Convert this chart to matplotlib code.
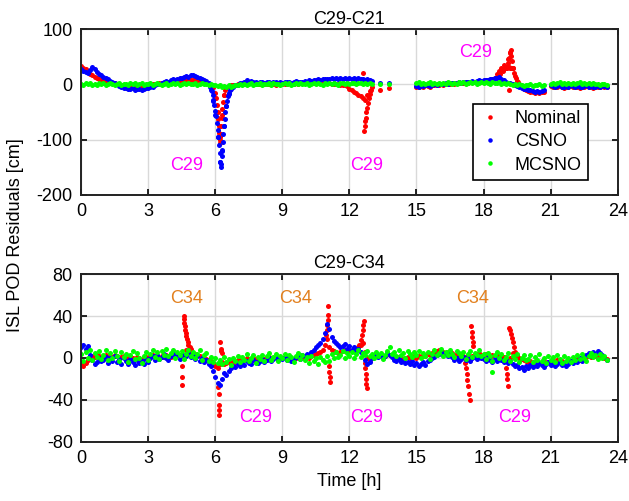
import numpy as np
import matplotlib.pyplot as plt

plt.rcParams['font.family'] = ['Liberation Sans', 'DejaVu Sans']
plt.rcParams['font.size'] = 13
plt.rcParams['axes.unicode_minus'] = False

# ---------------- C29-C21 (top) ----------------
# regular 0.1 h samples, segment A starts 0.0 h, B 15.0 h, C 21.0 h
top_blue_a = [28, 25, 23, 21, 26, 31, 27, 22, 19, 16,
              14, 11, 9, 6, 5, 2, 1, -3, -4, -7,
              -6, -9, -8, -7, -10, -8, -9, -10, -8, -7,
              -6, -4, -5, -2, 0, 1, 3, 4, 6, 5,
              7, 9, 8, 10, 12, 11, 13, 15, 14, 16,
              17, 15, 14, 12, 10, 7, 6, 3, -10, -30,
              -55, -95, -140, -120, -75, -40, -18, -8, -4, -2,
              -1, 2, 3, 5, 7, 5, 6, 4, 5, 3,
              5, 4, 3, 4, 5, 3, 4, 5, 3, 4,
              3, 5, 4, 4, 3, 5, 6, 4, 5, 4,
              6, 5, 7, 6, 8, 7, 9, 8, 10, 9,
              10, 9, 11, 10, 12, 10, 11, 9, 11, 10,
              11, 10, 12, 9, 11, 10, 9, 8, 9, 7,
              6]
top_green_a = [1, -2, 2, 0, 3, -1, 1, -2, 2, 0,
               2, -1, 1, 3, 0, -2, 1, 2, -1, 0,
               1, -2, 2, 0, 3, -1, 0, 2, -2, 1,
               0, 2, -1, 1, 3, 0, -2, 1, 2, -1,
               1, 3, 0, 2, -1, 1, 3, 0, 2, 1,
               0, 2, -1, 1, 3, 0, 1, -1, 0, -2,
               -1, -3, -2, -4, -3, -5, -2, -4, -3, -1,
               -2, 0, -1, 1, -2, 0, 2, -1, 1, 0,
               2, -1, 1, 0, 3, -1, 2, 0, 1, -2,
               1, 3, 0, 2, -1, 1, 2, 0, 3, 1,
               0, 2, -1, 1, 3, 0, 2, 1, -1, 2,
               1, 3, 0, 2, 1, -1, 2, 3, 0, 2,
               1, 3, 2, 0, 2, 3, 1, 2, 0, 2,
               1]
top_red_a = [34, 30, 27, 22, 18, 16, 14, 12, 10, 8,
             7, 6, 5, 4, 3, 2, 1, 0, -1, -2,
             -3, -4, -4, -5, -5, -4, -4, -3, -3, -2,
             -2, -1, 0, 0, 1, 2, 2, 3, 3, 4,
             4, 5, 5, 6, 6, 7, 7, 7, 8, 8,
             8, 7, 7, 6, 5, 4, 3, 1, -1, -5,
             -25, -60, -95, -55, -20, -5, -3, -2, -2, -1,
             0, 0, 1, 1, 2, 2, 2, 2, 1, 1,
             1, 1, 0, 0, 1, 0, 0, -1, 0, 0,
             1, 0, 1, 2, 1, 1, 2, 1, 2, 2,
             2, 3, 2, 3, 3, 2, 3, 3, 2, 3,
             2, 2, 1, 1, 0, 0, -1, -1, -2, -3,
             -8, -11, -14, -16, -19, -22, -25, -28, -20, -12,
             -5]

top_blue_b = [-3, -4, -2, -3, -1, -2, -3, -1, 0, -1,
              0, 1, 0, 2, 1, 2, 3, 2, 3, 4,
              3, 4, 5, 4, 5, 6, 5, 6, 7, 6,
              7, 8, 7, 9, 10, 11, 12, 13, 10, 7,
              5, 3, 2, 0, -1, -3, -5, -7, -8, -9,
              -10, -11, -12, -13, -12, -13, -12, -11]
top_green_b = [2, 4, 1, 3, 0, 2, 4, 1, 3, 0,
               2, 0, 3, 1, 4, 2, 0, 3, 1, 4,
               2, 4, 1, 3, 5, 2, 4, 1, 3, 5,
               2, 4, 3, 1, 5, 3, 2, 4, 1, 3,
               0, 2, 1, -1, 0, -2, 1, -1, -3, -1,
               -2, 0, -3, -1, -2, 0, -3, -1]
top_red_b = [-4, -5, -3, -4, -2, -3, -4, -2, -1, -2,
             -1, 0, -1, 1, 0, 1, 2, 1, 2, 3,
             2, 3, 4, 3, 4, 5, 4, 5, 6, 5,
             6, 7, 6, 8, 9, 12, 18, 25, 30, 35,
             30, 45, 57, 30, 15, 6, 0, -5, -8, -10,
             -12, -13, -14, -15, -14, -15, -14, -13]

top_blue_c = [-2, -3, -4, -3, -2, -4, -5, -3, -4, -2, -3, -4, -3,
              -5, -4, -3, -2, -4, -3, -5, -4, -3, -4, -2, -3, -4]
top_green_c = [1, 3, 0, 2, 4, 1, 3, 0, 2, 1, 3, 0, 2,
               4, 1, 2, 0, 3, 1, 2, 0, 1, -1, 1, 0, -1]
top_red_c = [-3, -4, -5, -4, -3, -5, -6, -4, -5, -3, -4, -5, -4,
             -6, -5, -4, -3, -5, -4, -6, -5, -4, -5, -3, -4, -5]

# extra (time, value) points: spikes and isolated samples
top_blue_x_t = [5.78, 5.84, 5.88, 5.92, 5.96, 6.00, 6.04, 6.07, 6.10, 6.13, 6.16, 6.19,
                6.22, 6.24, 6.26, 6.28, 6.30, 6.33, 6.36, 6.39, 6.42, 6.45, 6.48, 6.52,
                6.56, 6.60, 6.65, 13.35, 13.75]
top_blue_x_v = [-5, -12, -20, -28, -38, -48, -58, -70, -82, -95, -110, -125,
                -140, -150, -145, -130, -118, -105, -90, -75, -62, -50, -40, -30,
                -22, -15, -10, 3, 3]
top_red_x_t = [5.92, 5.98, 6.03, 6.07, 6.10, 6.13, 6.16, 6.18, 6.20, 6.22, 6.24, 6.26,
               6.29, 6.32, 6.36, 6.40, 6.45, 6.50,
               12.62, 12.66, 12.68, 12.70, 12.72, 12.75, 12.78, 12.82, 12.86, 12.90, 12.95,
               13.35, 13.75,
               18.65, 18.75, 18.85, 18.95, 19.05, 19.10, 19.15, 19.18, 19.22, 19.25, 19.28,
               19.32, 19.38, 19.45, 19.55, 18.95, 19.00, 19.05, 19.15, 19.20, 19.25, 19.12]
top_red_x_v = [-5, -15, -25, -38, -50, -62, -75, -88, -100, -107, -90, -75,
               -60, -45, -32, -20, -10, -5,
               21, -84, -75, -67, -60, -50, -42, -34, -25, -18, -11,
               -10, -6,
               14, 18, 24, 29, 32, 38, 48, 58, 62, 52, 42,
               30, 20, 12, 5, 30, 31, 30, 31, 30, 29, -10]
top_green_x_t = [13.35, 13.75]
top_green_x_v = [0, 1]

# ---------------- C29-C34 (bottom) ----------------
# regular 0.1 h samples from 0.0 h
bot_green = [4, -3, 6, 0, 8, -2, 5, 1, 7, -1,
             3, 8, -2, 5, 0, 7, 2, -3, 6, 1,
             4, -4, 3, 7, -1, 5, 0, -5, 2, 6,
             -2, 4, 8, 1, 6, -1, 7, 3, 9, 2,
             5, 8, 0, 6, 3, 7, -1, 4, 8, 2,
             6, 0, 4, 8, -2, 3, 5, -3, 1, -4,
             0, -5, -2, -6, 1, -4, -1, -7, 0, -3,
             2, -4, 1, -2, 4, -3, 0, 3, -5, 1,
             -1, 3, -3, 2, 5, -2, 1, 4, -3, 2,
             0, 4, -2, 3, 1, -4, 2, 5, -1, 3,
             -2, 1, -5, 2, -3, 0, -6, 1, -2, -4,
             2, -3, 4, 0, 6, 1, 3, 7, 0, 5,
             2, 6, 0, 4, 8, 1, 5, 3, 7, 2,
             4, 0, 6, 2, 5, -1, 3, 7, 10, 4,
             6, 2, 8, 3, 5, 0, 7, 4, 1, 6,
             3, 7, 0, 5, 2, 6, -1, 4, 8, 3,
             5, 9, 2, 6, 3, 8, 4, 1, 7, 5,
             2, 6, -1, 4, 7, 1, 5, 3, 8, 2,
             4, -1, 5, 2, -3, 3, 6, 0, 4, -2,
             1, 5, -3, 2, -1, 4, -4, 0, 3, -2,
             -1, 3, -4, 1, -2, 4, -3, 0, -5, 2,
             -2, 1, -4, 3, -1, -5, 2, -3, 0, -4,
             1, -2, 3, -1, 4, 0, -3, 2, 5, 1,
             3, -1, 4, 0, 2, -2]
bot_blue = [10, 12, 9, 11, 3, -2, -6, -4, 0, -3,
            -2, 1, -5, 0, -3, 2, -4, -1, -6, 0,
            -3, -6, -1, -4, -7, -2, -5, -3, -6, -1,
            -4, 0, 2, -2, 3, -1, 1, 4, 0, -2,
            2, 5, 1, 3, -1, 4, 0, 2, 5, 1,
            3, -1, 2, -3, 0, -4, -2, -6, -8, -12,
            -18, -24, -26, -20, -14, -16, -12, -10, -8, -9,
            -6, -8, -4, -7, -3, -5, -6, -2, -4, -5,
            -3, -1, -4, -2, 0, -3, -1, 1, -2, 0,
            -1, 1, -2, 0, -3, -1, 1, 2, -1, 3,
            2, 4, 3, 6, 8, 10, 12, 14, 18, 24,
            32, 28, 20, 16, 14, 12, 10, 11, 13, 9,
            11, 8, 10, 7, 9, 6, 4, -2, -6, -4,
            0, 2, 4, 1, 3, 0, 2, 5, 3, 1,
            -2, -3, -1, -4, -3, -5, -4, -6, -3, -7,
            -5, -8, -6, -4, -7, -3, -2, 0, 1, 3,
            4, 6, 3, 5, 2, 4, 1, -2, 0, -3,
            -1, 1, -2, 2, -3, 0, 1, -1, 2, 0,
            -1, -3, 1, -2, -4, -1, -3, 0, -2, -4,
            -2, -5, -3, -6, -8, -7, -10, -9, -11, -8,
            -10, -7, -9, -6, -8, -5, -7, -9, -6, -4,
            -7, -5, -8, -6, -4, -7, -5, -8, -6, -3,
            -5, -2, -4, 0, -3, 1, 3, 5, 2, 6,
            4, 7, 5, 3, 1, -2]
bot_red = [-6, -8, -5, -2, 0, 2, 1, 3, 2, 0,
           1, 3, 0, 2, 1, 3, 2, 0, 1, 2,
           0, -2, 1, 0, -1, 1, 0, -2, 0, 1,
           0, 2, 3, 1, 2, 0, 2, 1, 3, 2,
           1, 3, 2, 4, 2, 3, 0, 8, 7, 6,
           5, 4, 3, 2, 1, 0, -1, -2, -3, -5,
           -8, -10, -6, -4, -6, -5, -4, -5, -3, -4,
           -2, -3, -1, -2, 0, -1, -2, 0, -1, -2,
           -1, 0, -1, 0, 1, 0, 0, 1, 0, 1,
           0, 1, 0, 1, 0, -1, 0, 1, 0, 1,
           0, 1, 0, 2, 3, 4, 5, 6, 8, 12,
           18, 10, 8, 7, 6, 5, 6, 7, 8, 7,
           8, 7, 8, 9, 10, 12, 14, 6, 0, -2,
           1, 2, 3, 2, 3, 1, 2, 4, 3, 2,
           0, -1, 1, 0, -1, 0, 1, 0, 2, 1,
           0, 2, 1, 3, 2, 4, 3, 5, 6, 7,
           8, 7, 6, 5, 6, 4, 5, 3, 4, 2,
           3, 2, 1, 0, -2, 2, 3, 4, 5, 3,
           2, 4, 3, 1, 3, 2, 4, 0, 2, 1,
           0, -3, 0, 5, 3, 1, 0, -1, -2, -3,
           -4, -3, -5, -4, -3, -5, -4, -3, -5, -4,
           -4, -3, -5, -2, -4, -3, -5, -4, -2, -3,
           -2, -3, -1, -2, 0, -1, 1, 2, 1, 3,
           2, 3, 1, 2, 0, -1]

bot_red_x_t = [4.58, 4.60, 4.62, 4.64, 4.66, 4.68, 4.70, 4.73, 4.76, 4.80, 4.85, 4.90,
               4.53, 4.53, 4.53,
               6.14, 6.15, 6.16, 6.17, 6.18, 6.22, 6.24, 6.26, 6.28,
               10.95, 10.98, 11.00, 11.02, 11.04, 11.05, 11.08, 11.10, 11.12, 11.14,
               12.45, 12.50, 12.55, 12.60, 12.62, 12.64,
               12.68, 12.70, 12.72, 12.74, 12.76, 12.78,
               17.15, 17.20, 17.24, 17.28, 17.32, 17.35, 17.38,
               17.45, 17.47, 17.49, 17.51, 17.53,
               19.00, 19.03, 19.06, 19.09,
               19.15, 19.18, 19.22, 19.26, 19.30, 19.36, 19.42, 19.50]
bot_red_x_v = [40, 37, 33, 30, 27, 24, 21, 18, 15, 12, 10, 9,
               -8, -18, -26,
               -28, -34, -45, -50, -54, 15, 9, 7, 5,
               22, 27, 31, 36, 41, 50, -8, -13, -18, -23,
               12, 17, 22, 27, 31, 35,
               -5, -10, -15, -20, -25, -29,
               -5, -10, -15, -21, -27, -34, -40,
               30, 25, 20, 15, 11,
               -10, -15, -20, -27,
               29, 27, 23, 19, 15, 10, 6, 3]
bot_green_x_t = [18.4]
bot_green_x_v = [-13]

hours = [0, 3, 6, 9, 12, 15, 18, 21, 24]

RED, BLUE, GREEN = '#FF0000', '#0000FF', '#00FF00'
MAGENTA, ORANGE = '#FF00FF', '#E2801E'


def grid_t(start, vals):
    return start + 0.1 * np.arange(len(vals))


def dots(ax, t, v, color, label=None):
    ax.plot(t, v, 'o', ms=3.6, mec='none', color=color, label=label)


def style(ax, ylim, yticks):
    ax.set_xlim(0, 24)
    ax.set_ylim(*ylim)
    ax.set_xticks(hours)
    ax.set_yticks(yticks)
    ax.grid(True, color='#d9d9d9', lw=1.0)
    ax.set_axisbelow(True)
    ax.tick_params(direction='in', length=4, width=1.2, top=True, right=True, pad=6)
    for s in ax.spines.values():
        s.set_linewidth(1.4)
        s.set_color('#222222')


fig = plt.figure(figsize=(6.29, 5.01), dpi=100)
ax1 = fig.add_axes([0.129, 0.611, 0.853, 0.331])
ax2 = fig.add_axes([0.129, 0.118, 0.853, 0.335])

# top panel
dots(ax1, np.concatenate([grid_t(0, top_red_a), grid_t(15, top_red_b), grid_t(21, top_red_c), top_red_x_t]),
     top_red_a + top_red_b + top_red_c + top_red_x_v, RED, 'Nominal')
dots(ax1, np.concatenate([grid_t(0, top_blue_a), grid_t(15, top_blue_b), grid_t(21, top_blue_c), top_blue_x_t]),
     top_blue_a + top_blue_b + top_blue_c + top_blue_x_v, BLUE, 'CSNO')
dots(ax1, np.concatenate([grid_t(0, top_green_a), grid_t(15, top_green_b), grid_t(21, top_green_c), top_green_x_t]),
     top_green_a + top_green_b + top_green_c + top_green_x_v, GREEN, 'MCSNO')
style(ax1, (-200, 100), [-200, -100, 0, 100])
ax1.set_title('C29-C21', fontsize=13, pad=4)
ax1.text(4.7, -146, 'C29', color=MAGENTA, ha='center', va='center')
ax1.text(12.76, -146, 'C29', color=MAGENTA, ha='center', va='center')
ax1.text(17.65, 58, 'C29', color=MAGENTA, ha='center', va='center')
leg = ax1.legend(loc='lower right', bbox_to_anchor=(0.962, 0.035), fancybox=False,
                 framealpha=1, edgecolor='black', markerscale=0.9, handlelength=1.2,
                 handletextpad=0.8, labelspacing=0.35, borderpad=0.35, fontsize=13)
leg.get_frame().set_linewidth(1.2)

# bottom panel
dots(ax2, np.concatenate([grid_t(0, bot_red), bot_red_x_t]), bot_red + bot_red_x_v, RED)
dots(ax2, grid_t(0, bot_blue), bot_blue, BLUE)
dots(ax2, np.concatenate([grid_t(0, bot_green), bot_green_x_t]), bot_green + bot_green_x_v, GREEN)
style(ax2, (-80, 80), [-80, -40, 0, 40, 80])
ax2.set_title('C29-C34', fontsize=13, pad=4)
for x in [4.7, 9.6, 17.5]:
    ax2.text(x, 57, 'C34', color=ORANGE, ha='center', va='center')
for x in [7.8, 12.76, 19.4]:
    ax2.text(x, -57, 'C29', color=MAGENTA, ha='center', va='center')
ax2.set_xlabel('Time [h]', fontsize=13, labelpad=4)

fig.text(0.025, 0.53, 'ISL POD Residuals [cm]', rotation=90, ha='center', va='center', fontsize=13)

fig.savefig('out.png', dpi=100)
